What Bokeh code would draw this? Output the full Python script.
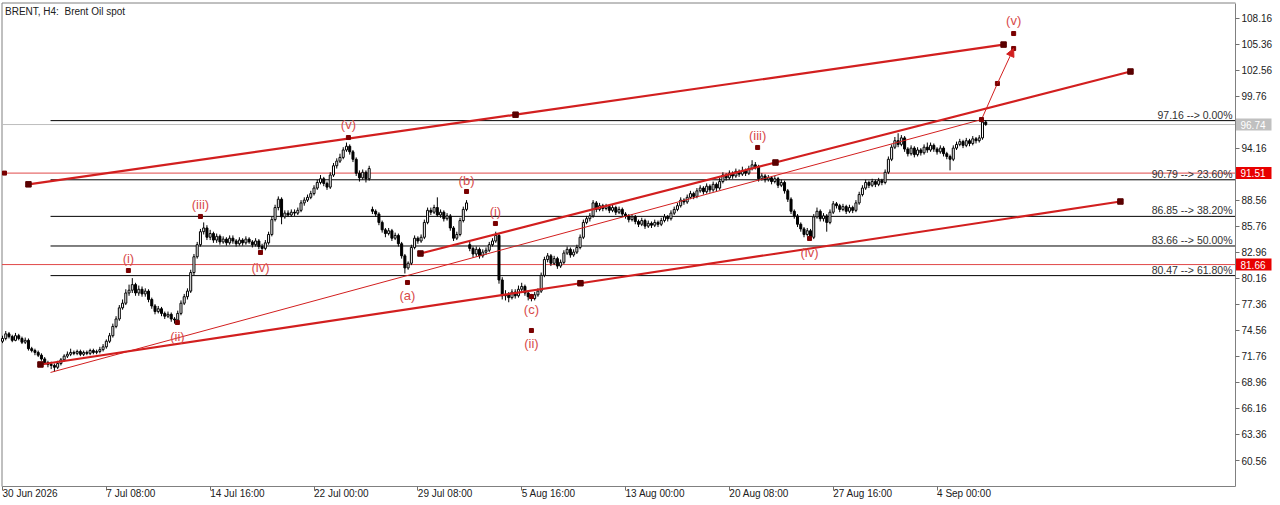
from bokeh.plotting import figure
from bokeh.models import Label, Arrow, NormalHead, FixedTicker, ColumnDataSource, Range1d
from bokeh.core.properties import value
from bokeh.embed import file_html
from bokeh.resources import INLINE

# ---------------- data (H4 bars, index 0 = 30 Jun 2026 00:00) ----------------
opens = [
73.4, 73.7, 74.2, 73.9, 73.5, 74.0, 73.7, 73.3, 73.5, 72.6,
72.4, 72.2, 71.9, 71.5, 71.1, 70.9, 70.8, 70.6, 71.0, 71.4,
71.8, 72.0, 72.2, 72.1, 72.3, 72.0, 72.2, 72.1, 72.4, 72.2,
72.3, 72.5, 72.8, 73.4, 74.0, 75.0, 75.8, 77.0, 77.5, 78.6,
78.9, 79.5, 78.6, 79.0, 78.5, 78.8, 77.9, 77.2, 76.6, 76.9,
76.4, 76.1, 76.3, 75.8, 75.7, 76.4, 77.5, 78.2, 78.8, 80.8,
82.5, 83.8, 85.2, 85.6, 84.6, 85.0, 84.3, 84.7, 84.1, 84.4,
84.0, 84.5, 84.2, 83.9, 84.3, 84.0, 84.4, 84.1, 83.8, 84.2,
83.6, 83.4, 84.0, 84.9, 86.5, 87.8, 88.7, 86.8, 87.2, 87.0,
87.3, 87.2, 87.5, 88.3, 88.6, 88.9, 89.3, 89.9, 90.5, 90.9,
90.4, 90.0, 91.3, 92.3, 92.8, 93.2, 94.0, 94.4, 93.8, 93.0,
91.5, 91.0, 91.6, 90.9, 87.6, 87.4, 87.1, 86.2, 85.4, 85.0,
85.3, 84.5, 84.8, 83.9, 82.6, 81.3, 81.8, 83.5, 84.5, 84.2,
84.6, 86.2, 87.5, 87.3, 87.8, 87.0, 87.3, 86.6, 86.9, 85.6,
84.5, 84.9, 86.4, 87.6, 83.8, 83.4, 82.8, 83.3, 82.6, 83.0,
83.2, 83.8, 84.2, 84.8, 80.0, 78.3, 78.4, 78.1, 78.7, 78.3,
79.0, 79.3, 78.6, 78.2, 78.0, 78.4, 78.8, 80.5, 82.2, 82.6,
81.8, 82.3, 81.5, 81.9, 82.9, 83.3, 82.7, 83.0, 83.5, 84.6,
86.2, 86.6, 86.9, 88.3, 87.6, 88.0, 87.7, 87.9, 87.5, 87.8,
87.3, 87.6, 87.1, 86.9, 86.5, 86.8, 86.3, 86.0, 86.4, 85.8,
86.1, 85.9, 86.2, 86.0, 86.4, 86.8, 86.6, 87.2, 87.6, 88.0,
88.6, 88.4, 88.9, 89.3, 89.0, 89.6, 89.9, 89.5, 90.1, 89.7,
90.3, 89.9, 90.6, 91.3, 91.0, 91.5, 91.2, 91.7, 91.4, 91.8,
91.5, 92.0, 92.4, 92.2, 90.9, 91.2, 90.8, 91.0, 90.6, 90.9,
90.2, 90.5, 89.6, 88.7, 87.4, 86.9, 86.0, 85.5, 84.9, 85.3,
84.6, 86.8, 87.4, 86.6, 86.9, 86.2, 87.3, 88.2, 88.0, 87.6,
87.9, 87.4, 87.8, 87.5, 88.3, 89.2, 89.9, 90.5, 90.2, 90.6,
90.3, 90.7, 90.5, 91.6, 93.0, 94.3, 95.0, 94.6, 95.3, 94.1,
93.6, 94.2, 93.5, 94.0, 93.7, 94.3, 94.0, 94.5, 94.1, 93.8,
94.2, 93.6, 93.3, 93.0, 94.2, 94.6, 94.9, 94.5, 95.0, 94.7,
95.2, 95.0, 95.3, 97.0]

highs = [
74.0, 74.5, 74.4, 74.1, 74.3, 74.2, 73.9, 73.8, 73.7, 72.8,
72.6, 72.4, 72.1, 71.7, 71.3, 71.2, 71.0, 71.3, 71.6, 72.0,
72.3, 72.6, 72.4, 72.5, 72.5, 72.4, 72.4, 72.6, 72.6, 72.5,
72.8, 73.1, 73.6, 74.3, 75.3, 76.1, 77.3, 77.9, 79.0, 79.5,
80.2, 79.7, 79.4, 79.3, 79.1, 79.0, 78.1, 77.4, 77.2, 77.1,
76.6, 76.6, 76.5, 76.0, 76.7, 77.8, 78.5, 79.1, 81.1, 82.8,
84.1, 85.5, 86.2, 85.9, 85.4, 85.2, 85.0, 84.9, 84.7, 84.6,
84.8, 84.8, 84.4, 84.6, 84.5, 84.7, 84.6, 84.3, 84.5, 84.4,
83.9, 84.3, 85.2, 86.8, 88.1, 89.0, 88.9, 87.5, 87.5, 87.6,
87.6, 87.8, 88.6, 88.9, 89.2, 89.6, 90.2, 90.8, 91.3, 91.1,
90.6, 91.6, 92.6, 93.1, 93.6, 94.3, 94.8, 94.6, 94.0, 93.2,
91.8, 91.9, 91.8, 92.3, 87.9, 87.6, 87.3, 86.4, 85.6, 85.6,
85.5, 85.1, 85.0, 84.1, 82.8, 82.0, 83.8, 84.8, 84.7, 84.9,
86.5, 87.8, 87.8, 88.1, 88.9, 87.6, 87.5, 87.2, 87.1, 85.8,
85.2, 86.7, 87.9, 88.6, 84.1, 83.6, 83.6, 83.5, 83.3, 83.5,
84.1, 84.5, 85.2, 85.0, 80.3, 78.9, 78.7, 79.0, 79.0, 79.4,
79.7, 79.5, 78.8, 78.5, 78.7, 79.1, 80.8, 82.5, 82.9, 82.8,
82.6, 82.5, 82.2, 83.2, 83.6, 83.5, 83.3, 83.8, 84.9, 86.5,
86.9, 87.2, 88.6, 88.5, 88.3, 88.2, 88.2, 88.1, 88.1, 88.0,
87.9, 87.8, 87.3, 87.1, 87.1, 87.0, 86.5, 86.7, 86.6, 86.4,
86.3, 86.5, 86.4, 86.7, 87.1, 87.0, 87.5, 87.9, 88.3, 88.9,
88.8, 89.2, 89.6, 89.5, 89.9, 90.2, 90.1, 90.4, 90.3, 90.6,
90.5, 91.0, 91.6, 91.5, 91.8, 91.7, 92.0, 91.9, 92.2, 92.0,
92.3, 92.9, 92.7, 92.4, 91.5, 91.4, 91.3, 91.2, 91.2, 91.1,
90.8, 90.7, 89.8, 88.9, 87.6, 87.1, 86.2, 85.7, 85.6, 85.5,
87.1, 87.8, 87.6, 87.2, 87.1, 87.6, 88.5, 88.4, 88.2, 88.2,
88.1, 88.1, 88.0, 88.6, 89.5, 90.2, 90.8, 90.7, 90.9, 90.8,
91.0, 90.9, 91.9, 93.3, 94.6, 95.4, 95.8, 95.6, 95.5, 94.3,
94.5, 94.4, 94.3, 94.2, 94.6, 94.8, 94.8, 94.7, 94.3, 94.5,
94.4, 93.8, 93.5, 94.5, 94.9, 95.2, 95.1, 95.3, 95.2, 95.5,
95.4, 95.6, 97.5, 97.2]

lows = [
73.2, 73.5, 73.7, 73.3, 73.4, 73.5, 73.1, 73.1, 72.4, 72.2,
71.9, 71.7, 71.3, 70.9, 70.6, 70.4, 70.1, 70.4, 70.8, 71.2,
71.6, 71.8, 71.9, 71.9, 71.8, 71.8, 71.9, 71.9, 72.0, 72.0,
72.1, 72.3, 72.6, 73.2, 73.8, 74.8, 75.6, 76.8, 77.3, 78.3,
78.6, 78.3, 78.3, 78.2, 78.2, 77.6, 76.9, 76.3, 76.4, 76.1,
75.8, 75.9, 75.5, 75.3, 75.5, 76.2, 77.3, 77.9, 78.6, 80.5,
82.3, 83.6, 84.9, 84.3, 84.3, 84.0, 84.0, 83.8, 83.9, 83.7,
83.8, 83.9, 83.6, 83.7, 83.7, 83.8, 83.9, 83.5, 83.6, 83.3,
83.0, 83.2, 83.8, 84.7, 86.3, 87.5, 86.0, 86.6, 86.8, 86.8,
86.9, 87.0, 87.3, 88.0, 88.4, 88.7, 89.1, 89.7, 90.3, 90.1,
89.7, 89.8, 91.1, 92.0, 92.6, 93.0, 93.8, 93.5, 92.7, 91.2,
90.6, 90.8, 90.5, 90.7, 87.1, 86.8, 85.9, 85.1, 84.6, 84.8,
84.2, 84.3, 83.6, 82.3, 80.7, 81.1, 81.6, 83.3, 83.9, 84.0,
84.4, 86.0, 87.0, 87.1, 86.8, 86.7, 86.3, 86.4, 85.3, 84.2,
84.3, 84.7, 86.2, 87.4, 83.1, 82.4, 82.5, 82.3, 82.4, 82.7,
83.0, 83.6, 84.0, 79.6, 77.9, 77.8, 77.6, 77.9, 78.0, 78.1,
78.7, 78.3, 77.8, 77.7, 77.8, 78.2, 78.6, 80.3, 81.9, 81.5,
81.6, 81.2, 81.3, 81.7, 82.7, 82.4, 82.5, 82.8, 83.3, 84.4,
86.0, 86.3, 86.7, 87.3, 87.4, 87.4, 87.5, 87.2, 87.3, 87.0,
87.1, 86.8, 86.6, 86.2, 86.3, 86.0, 85.7, 85.8, 85.5, 85.6,
85.6, 85.7, 85.7, 85.8, 86.2, 86.3, 86.4, 87.0, 87.4, 87.8,
88.1, 88.2, 88.7, 88.7, 88.8, 89.4, 89.2, 89.3, 89.4, 89.5,
89.5, 89.7, 90.4, 90.7, 90.8, 90.9, 91.0, 91.1, 91.2, 91.2,
91.3, 91.8, 91.9, 90.6, 90.7, 90.5, 90.6, 90.3, 90.4, 89.9,
90.0, 89.3, 88.4, 87.1, 86.6, 85.7, 85.2, 84.6, 84.7, 84.2,
84.4, 86.6, 86.3, 86.3, 85.2, 86.0, 87.1, 87.7, 87.3, 87.4,
87.1, 87.2, 87.2, 87.3, 88.1, 89.0, 89.7, 89.9, 90.0, 90.0,
90.1, 90.2, 90.3, 91.4, 92.8, 94.1, 94.3, 94.4, 93.8, 93.3,
93.4, 93.2, 93.3, 93.4, 93.5, 93.7, 93.8, 93.8, 93.5, 93.6,
93.3, 93.0, 91.8, 92.8, 94.0, 94.4, 94.2, 94.3, 94.4, 94.5,
94.7, 94.8, 95.1, 96.6]

closes = [
73.7, 74.2, 73.9, 73.5, 74.0, 73.7, 73.3, 73.5, 72.6, 72.4,
72.2, 71.9, 71.5, 71.1, 70.9, 70.8, 70.6, 71.0, 71.4, 71.8,
72.0, 72.2, 72.1, 72.3, 72.0, 72.2, 72.1, 72.4, 72.2, 72.3,
72.5, 72.8, 73.4, 74.0, 75.0, 75.8, 77.0, 77.5, 78.6, 78.9,
79.5, 78.6, 79.0, 78.5, 78.8, 77.9, 77.2, 76.6, 76.9, 76.4,
76.1, 76.3, 75.8, 75.7, 76.4, 77.5, 78.2, 78.8, 80.8, 82.5,
83.8, 85.2, 85.6, 84.6, 85.0, 84.3, 84.7, 84.1, 84.4, 84.0,
84.5, 84.2, 83.9, 84.3, 84.0, 84.4, 84.1, 83.8, 84.2, 83.6,
83.4, 84.0, 84.9, 86.5, 87.8, 88.7, 86.8, 87.2, 87.0, 87.3,
87.2, 87.5, 88.3, 88.6, 88.9, 89.3, 89.9, 90.5, 90.9, 90.4,
90.0, 91.3, 92.3, 92.8, 93.2, 94.0, 94.4, 93.8, 93.0, 91.5,
91.0, 91.6, 90.9, 92.0, 87.4, 87.1, 86.2, 85.4, 85.0, 85.3,
84.5, 84.8, 83.9, 82.6, 81.3, 81.8, 83.5, 84.5, 84.2, 84.6,
86.2, 87.5, 87.3, 87.8, 87.0, 87.3, 86.6, 86.9, 85.6, 84.5,
84.9, 86.4, 87.6, 88.3, 83.4, 82.8, 83.3, 82.6, 83.0, 83.2,
83.8, 84.2, 84.8, 80.0, 78.3, 78.4, 78.1, 78.7, 78.3, 79.0,
79.3, 78.6, 78.2, 78.0, 78.4, 78.8, 80.5, 82.2, 82.6, 81.8,
82.3, 81.5, 81.9, 82.9, 83.3, 82.7, 83.0, 83.5, 84.6, 86.2,
86.6, 86.9, 88.3, 87.6, 88.0, 87.7, 87.9, 87.5, 87.8, 87.3,
87.6, 87.1, 86.9, 86.5, 86.8, 86.3, 86.0, 86.4, 85.8, 86.1,
85.9, 86.2, 86.0, 86.4, 86.8, 86.6, 87.2, 87.6, 88.0, 88.6,
88.4, 88.9, 89.3, 89.0, 89.6, 89.9, 89.5, 90.1, 89.7, 90.3,
89.9, 90.6, 91.3, 91.0, 91.5, 91.2, 91.7, 91.4, 91.8, 91.5,
92.0, 92.4, 92.2, 90.9, 91.2, 90.8, 91.0, 90.6, 90.9, 90.2,
90.5, 89.6, 88.7, 87.4, 86.9, 86.0, 85.5, 84.9, 85.3, 84.6,
86.8, 87.4, 86.6, 86.9, 86.2, 87.3, 88.2, 88.0, 87.6, 87.9,
87.4, 87.8, 87.5, 88.3, 89.2, 89.9, 90.5, 90.2, 90.6, 90.3,
90.7, 90.5, 91.6, 93.0, 94.3, 95.0, 94.6, 95.3, 94.1, 93.6,
94.2, 93.5, 94.0, 93.7, 94.3, 94.0, 94.5, 94.1, 93.8, 94.2,
93.6, 93.3, 93.0, 94.2, 94.6, 94.9, 94.5, 95.0, 94.7, 95.2,
95.0, 95.3, 97.0, 96.74]

date_ticks = [0, 32, 64, 96, 128, 160, 192, 224, 256, 288]
date_labels = ["30 Jun 2026", "7 Jul 08:00", "14 Jul 16:00", "22 Jul 00:00", "29 Jul 08:00",
               "5 Aug 16:00", "13 Aug 00:00", "20 Aug 08:00", "27 Aug 16:00", "4 Sep 00:00"]
price_ticks = [108.16, 105.36, 102.56, 99.76, 94.16, 88.56, 85.76, 82.96,
               80.16, 77.36, 74.56, 71.76, 68.96, 66.16, 63.36, 60.56]

fib_levels = [97.16, 90.79, 86.85, 83.66, 80.47]
fib_pcts = ["0.00%", "23.60%", "38.20%", "50.00%", "61.80%"]
fib_start = 14.8

red_levels = [91.51, 81.66]
bid_price = 96.74

upper_x = [8.0, 158.1, 308.5]
upper_y = [90.3, 97.8, 105.35]
lower_x = [11.7, 178.1, 344.5]
lower_y = [70.9, 79.65, 88.45]
mid_x = [128.8, 238.2, 347.6]
mid_y = [82.85, 92.65, 102.45]
thin_x = [14.8, 301.7]
thin_y = [70.04, 97.28]
proj_x = [301.7, 306.6, 311.6]
proj_y = [97.28, 101.16, 104.93]

wave_text = ["(i)", "(ii)", "(iii)", "(iv)", "(v)", "(a)", "(b)", "(i)", "(c)", "(ii)", "(iii)", "(iv)", "(v)"]
wave_x = [38.8, 53.9, 61.0, 79.5, 106.6, 124.8, 143.0, 151.9, 163.0, 163.0, 232.7, 248.7, 311.6]
wave_mark_y = [81.02, 75.42, 86.84, 82.96, 95.34, 79.73, 89.53, 86.08, 78.22, 74.56, 94.27, 84.47, 106.54]
wave_label_y = [82.31, 73.91, 88.13, 81.34, 96.74, 78.33, 90.71, 87.37, 76.82, 73.16, 95.56, 82.96, 107.94]

# ---------------- geometry (bar index / price scales) ----------------
PX_BAR = 3.245          # pixels per bar
PX_PRICE = 9.286        # pixels per price unit
def bx(px):             # page pixel -> bar coordinate
    return (px - 2.0) / PX_BAR
def py(px):             # page pixel -> price coordinate
    return 60.56 + (460.0 - px) / PX_PRICE

XR0, XR1 = bx(0), bx(1280)
YR0, YR1 = py(505), py(0)
X_LEFT, X_RIGHT = bx(1.5), bx(1235)
Y_TOP, Y_BOT = py(2.5), py(486)

FONT = "Liberation Sans"
RED = "#d21f1f"
LRED = "#e04848"
LABEL_RED = "#d84a4a"
MARK = "#7a0000"

p = figure(width=1280, height=505, x_range=Range1d(XR0, XR1), y_range=Range1d(YR0, YR1),
           output_backend="svg", toolbar_location=None, y_axis_location="right",
           min_border=0, min_border_left=0, min_border_right=0, min_border_top=0,
           min_border_bottom=0, background_fill_color="white", border_fill_color="white")
p.outline_line_color = None
p.xgrid.visible = False
p.ygrid.visible = False

ya = p.yaxis[0]
ya.fixed_location = X_RIGHT
ya.bounds = (Y_BOT, Y_TOP)
ya.ticker = FixedTicker(ticks=price_ticks)
ya.major_label_overrides = {t: f"{t:.2f}" for t in price_ticks}
ya.minor_tick_line_color = None
ya.major_tick_in = 0
ya.major_tick_out = 4
ya.axis_line_color = "#808080"
ya.major_tick_line_color = "#707070"
ya.major_label_standoff = 2
ya.major_label_text_font = FONT
ya.major_label_text_font_size = "10px"
ya.major_label_text_color = "#202020"

xa = p.xaxis[0]
xa.fixed_location = Y_BOT
xa.bounds = (X_LEFT, X_RIGHT)
xa.ticker = FixedTicker(ticks=date_ticks)
xa.major_label_overrides = {t: s for t, s in zip(date_ticks, date_labels)}
xa.major_label_orientation = -0.0001
xa.minor_tick_line_color = None
xa.major_tick_in = 0
xa.major_tick_out = 4
xa.axis_line_color = "#808080"
xa.major_tick_line_color = "#707070"
xa.major_label_standoff = 3
xa.major_label_text_font = FONT
xa.major_label_text_font_size = "10px"
xa.major_label_text_color = "#202020"

# chart frame (left and top edges)
p.line([X_LEFT, X_LEFT, X_RIGHT], [Y_BOT, Y_TOP, Y_TOP], line_color="#808080", line_width=1)

# horizontal levels
p.segment(x0=[X_LEFT], y0=[bid_price], x1=[X_RIGHT], y1=[bid_price], line_color="#bdbdbd", line_width=1)
p.segment(x0=[X_LEFT] * len(red_levels), y0=red_levels, x1=[X_RIGHT] * len(red_levels), y1=red_levels,
          line_color=LRED, line_width=1)
p.scatter([bx(4)], [red_levels[0]], marker="square", size=4, color=MARK)

p.segment(x0=[fib_start] * len(fib_levels), y0=fib_levels, x1=[X_RIGHT] * len(fib_levels), y1=fib_levels,
          line_color="#000000", line_width=1)
for lv, pc in zip(fib_levels, fib_pcts):
    p.add_layout(Label(x=X_RIGHT, y=lv, x_offset=-3, y_offset=0, text=f"{lv:.2f} --> {pc}",
                       text_align="right", text_baseline="bottom", text_font=FONT,
                       text_font_size="10.5px", text_color="#303030"))

# candles
idx = list(range(len(closes)))
src = ColumnDataSource(dict(
    x=idx, h=highs, l=lows,
    top=[max(o, c) for o, c in zip(opens, closes)],
    bottom=[min(o, c) for o, c in zip(opens, closes)],
    fill=["white" if c >= o else "black" for o, c in zip(opens, closes)]))
p.segment(x0="x", y0="h", x1="x", y1="l", source=src, line_color="black", line_width=1)
p.vbar(x="x", width=0.62, top="top", bottom="bottom", fill_color="fill", line_color="black",
       line_width=1, source=src)

# channel / trend lines
p.line(thin_x, thin_y, line_color=RED, line_width=1)
for xs, ys in [(upper_x, upper_y), (lower_x, lower_y), (mid_x, mid_y)]:
    p.line(xs, ys, line_color=RED, line_width=2.2)
    p.scatter(xs, ys, marker="square", size=5.5, fill_color="#5a0000", line_color="#5a0000")

# projection
p.line(proj_x[:2], proj_y[:2], line_color=RED, line_width=1)
p.add_layout(Arrow(end=NormalHead(size=8, fill_color=RED, line_color=RED),
                   x_start=proj_x[1], y_start=proj_y[1], x_end=proj_x[2], y_end=proj_y[2],
                   line_color=RED, line_width=1))
p.scatter(proj_x, proj_y, marker="square", size=4, fill_color=MARK, line_color=MARK)

# wave labels
p.scatter(wave_x, wave_mark_y, marker="square", size=4, fill_color=MARK, line_color=MARK)
p.text(x=wave_x, y=wave_label_y, text=wave_text, text_font=value(FONT), text_font_size="13px",
       text_color=LABEL_RED, text_align="center", text_baseline="middle")

# price tags on the axis
tag_y = [bid_price] + red_levels
tag_fill = ["#c0c0c0", "#e80000", "#e80000"]
p.rect(x=[bx(1253)] * 3, y=tag_y, width=36, height=12, width_units="screen", height_units="screen",
       fill_color=tag_fill, line_color=None)
p.text(x=[bx(1240)] * 3, y=tag_y, text=[f"{v:.2f}" for v in tag_y], text_font=value(FONT),
       text_font_size="10px", text_color="white", text_align="left", text_baseline="middle")

# title
p.add_layout(Label(x=X_LEFT, y=Y_TOP, x_offset=3, y_offset=-3, text="BRENT, H4:\u00a0 Brent Oil spot",
                   text_align="left", text_baseline="top", text_font=FONT, text_font_size="10px",
                   text_color="#202020"))

open("out.html", "w").write(file_html(p, INLINE))
